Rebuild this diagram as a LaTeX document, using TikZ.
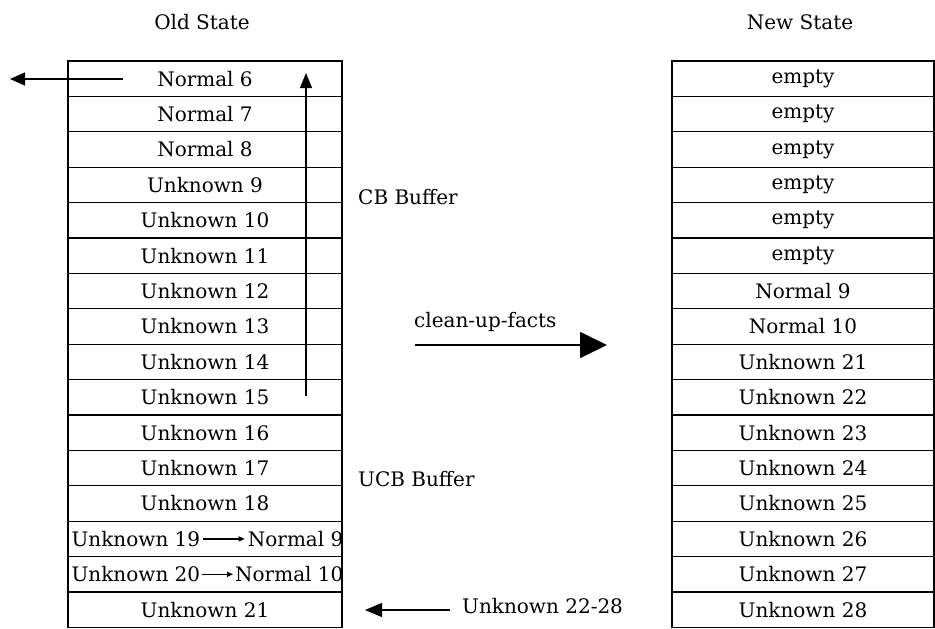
\documentclass[tikz,border=0pt]{standalone}
\usepackage{fontspec}
\setmainfont{DejaVu Serif}
\usetikzlibrary{arrows.meta}
\begin{document}
\begin{tikzpicture}[x=1pt,y=-1pt,
  every node/.style={font=\fontsize{20}{23}\selectfont, inner sep=0pt},
  cell/.style={draw, line width=1.2pt, minimum height=35.4pt, inner sep=0pt},
  oldcell/.style={cell, minimum width=274pt},
  newcell/.style={cell, minimum width=262pt},
  lbl/.style={anchor=west},
  conn/.style={line width=1.2pt},
]
\useasboundingbox (0,0) rectangle (935,629);
\node (told) at (202,22) {Old State};
\node (tnew) at (800,22) {New State};
% old state
\foreach \t [count=\i from 0] in {Normal 6,Normal 7,Normal 8,Unknown 9,Unknown 10,Unknown 11,Unknown 12,Unknown 13,Unknown 14,Unknown 15,Unknown 16,Unknown 17,Unknown 18,{},{},Unknown 21}{
  \node[oldcell] (o\i) at (205,{61+35.4*(\i+0.5)}) {\t};
}
\node[anchor=west] (u19) at ([xshift=4pt]o13.west) {Unknown 19};
\node[anchor=east] (n9) at ([xshift=1pt]o13.east) {Normal 9};
\draw[conn,-{Triangle[length=6pt,width=5pt]}] ([xshift=3pt]u19.east) -- ([xshift=-3pt]n9.west);
\node[anchor=west] (u20) at ([xshift=4pt]o14.west) {Unknown 20};
\node[anchor=east] (n10) at ([xshift=1pt]o14.east) {Normal 10};
\draw[conn,-{Triangle[length=6pt,width=5pt]}] ([xshift=2pt]u20.east) -- ([xshift=-2pt]n10.west);
% new state
\foreach \t [count=\i from 0] in {empty,empty,empty,empty,empty,empty,Normal 9,Normal 10,Unknown 21,Unknown 22,Unknown 23,Unknown 24,Unknown 25,Unknown 26,Unknown 27,Unknown 28}{
  \node[newcell] (n\i) at (803,{61+35.4*(\i+0.5)}) {\t};
}
% labels
\node[lbl] (cb) at (358,197) {CB Buffer};
\node[lbl] (ucb) at (358,479) {UCB Buffer};
\node[lbl] (cuf) at (414,322) {clean-up-facts};
\node[lbl] (u2228) at (462,606) {Unknown 22-28};
% arrows
\coordinate (lout) at (10,79);
\coordinate (lin) at (123,79);
\draw[conn,-{Triangle[length=15pt,width=13pt]}] (lin) -- (lout);
\coordinate (vbot) at (306,396);
\coordinate (vtop) at (306,73);
\draw[conn,-{Triangle[length=15pt,width=12pt]}] (vbot) -- (vtop);
\coordinate (cs) at (415,345);
\coordinate (ce) at (607,345);
\draw[line width=1.8pt,-{Triangle[length=27pt,width=26pt]}] (cs) -- (ce);
\coordinate (us) at (450,610);
\coordinate (ue) at (365,610);
\draw[conn,-{Triangle[length=17pt,width=14pt]}] (us) -- (ue);
\end{tikzpicture}
\end{document}
